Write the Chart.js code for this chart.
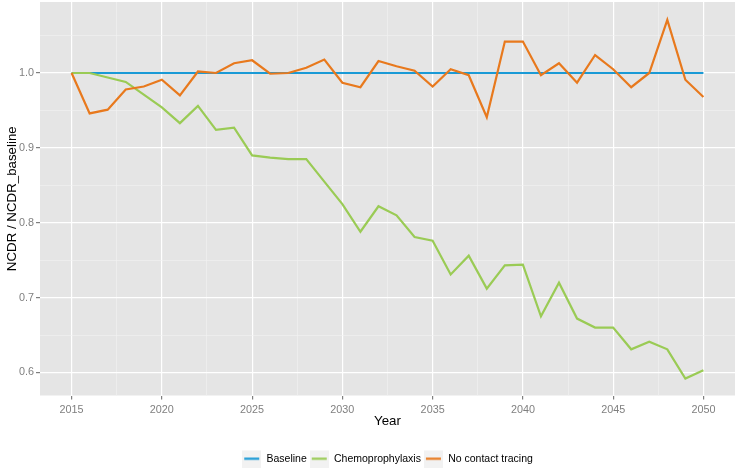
<!DOCTYPE html>
<html>
<head>
<meta charset="utf-8">
<script src="https://cdn.jsdelivr.net/npm/chart.js@4/dist/chart.umd.min.js"></script>
<style>
  html, body { margin: 0; padding: 0; background: #ffffff; }
  #wrap { width: 737px; height: 469px; position: relative; }
</style>
</head>
<body>
<div id="wrap"><canvas id="c" width="737" height="469"></canvas></div>
<script>
// ---- data ----
const years = [2015,2016,2017,2018,2019,2020,2021,2022,2023,2024,2025,2026,2027,2028,2029,2030,2031,2032,2033,2034,2035,2036,2037,2038,2039,2040,2041,2042,2043,2044,2045,2046,2047,2048,2049,2050];
const seriesNames = ["Baseline", "Chemoprophylaxis", "No contact tracing"];
const baseline = [1,1,1,1,1,1,1,1,1,1,1,1,1,1,1,1,1,1,1,1,1,1,1,1,1,1,1,1,1,1,1,1,1,1,1,1];
const chemoprophylaxis = [1.000,1.000,0.994,0.988,0.971,0.954,0.933,0.956,0.924,0.927,0.890,0.887,0.885,0.885,0.855,0.825,0.788,0.822,0.810,0.781,0.776,0.731,0.756,0.712,0.743,0.744,0.675,0.720,0.672,0.660,0.660,0.631,0.641,0.631,0.592,0.603];
const noContactTracing = [1.000,0.946,0.951,0.978,0.982,0.991,0.970,1.002,1.000,1.013,1.017,0.999,1.000,1.007,1.018,0.987,0.981,1.016,1.009,1.003,0.982,1.005,0.997,0.941,1.042,1.042,0.997,1.013,0.987,1.024,1.005,0.981,1.000,1.071,0.991,0.968];
const xMajorTicks = [2015,2020,2025,2030,2035,2040,2045,2050];
const xMinorTicks = [2017.5,2022.5,2027.5,2032.5,2037.5,2042.5,2047.5];
const yMajorTicks = [0.6,0.7,0.8,0.9,1.0];
const yMinorTicks = [0.65,0.75,0.85,0.95,1.05];

// ---- styles ----
const colors = ["#1a9ad6", "#9acb55", "#e8791d"];
const FONT = "'Liberation Sans', Arial, Helvetica, sans-serif";

function keyImage(color) {
  const c = document.createElement('canvas');
  c.width = 19; c.height = 19;
  const g = c.getContext('2d');
  g.fillStyle = '#f2f2f2';
  g.fillRect(0, 0, 19, 19);
  g.strokeStyle = color;
  g.lineWidth = 2.2;
  g.beginPath();
  g.moveTo(2, 9.5); g.lineTo(17, 9.5);
  g.stroke();
  return c;
}
const keys = colors.map(keyImage);

const toXY = arr => years.map((y, i) => ({x: y, y: arr[i]}));
const seriesData = [baseline, chemoprophylaxis, noContactTracing];

const panelBg = {
  id: 'panelBg',
  beforeDraw(chart) {
    const {ctx, chartArea: a} = chart;
    ctx.save();
    ctx.fillStyle = '#e5e5e5';
    ctx.fillRect(a.left, a.top, a.right - a.left, a.bottom - a.top);
    ctx.restore();
  }
};

// centre the legend under the panel and place it near the bottom edge
const legendShift = {
  id: 'legendShift',
  afterLayout(chart) {
    const a = chart.chartArea;
    const lg = chart.legend;
    if (!lg) return;
    const d = (a.left + a.right) / 2 - (lg.left + lg.right) / 2;
    lg.left += d; lg.right += d;
    lg.top += 8.5; lg.bottom += 8.5;
  }
};

function isMajor(list, v) { return list.some(t => Math.abs(t - v) < 1e-9); }

new Chart(document.getElementById('c'), {
  type: 'line',
  data: {
    datasets: seriesNames.map((name, i) => ({
      label: name,
      data: toXY(seriesData[i]),
      borderColor: colors[i],
      backgroundColor: colors[i],
      borderWidth: 2.2,
      pointRadius: 0,
      tension: 0,
      fill: false,
      order: 3 - i
    }))
  },
  options: {
    responsive: false,
    animation: false,
    layout: { padding: { top: 2, right: 2, left: 0, bottom: 3.5 } },
    plugins: {
      tooltip: { enabled: false },
      legend: {
        position: 'bottom',
        labels: {
          usePointStyle: true,
          pointStyleWidth: 19,
          padding: 3,
          color: '#000000',
          font: { family: FONT, size: 10.5 },
          generateLabels(chart) {
            return seriesNames.map((name, i) => ({
              text: name,
              pointStyle: keys[i],
              fillStyle: colors[i],
              strokeStyle: colors[i],
              lineWidth: 0,
              hidden: false,
              datasetIndex: i
            }));
          }
        }
      }
    },
    scales: {
      x: {
        type: 'linear',
        min: 2013.25,
        max: 2051.75,
        afterFit(scale) { scale.height = 46.5; scale.paddingLeft = 0; scale.paddingRight = 0; },
        afterBuildTicks(scale) {
          scale.ticks = xMajorTicks.concat(xMinorTicks).sort((a,b)=>a-b).map(v => ({value: v}));
        },
        border: { display: false },
        grid: {
          color: ctx => isMajor(xMajorTicks, ctx.tick ? ctx.tick.value : 0) ? '#ffffff' : '#f2f2f2',
          lineWidth: ctx => isMajor(xMajorTicks, ctx.tick ? ctx.tick.value : 0) ? 1.2 : 0.6,
          tickColor: ctx => isMajor(xMajorTicks, ctx.tick ? ctx.tick.value : 0) ? '#7f7f7f' : 'rgba(0,0,0,0)',
          tickLength: 4,
          drawTicks: true
        },
        ticks: {
          autoSkip: false,
          maxRotation: 0,
          padding: 4,
          color: '#7f7f7f',
          font: { family: FONT, size: 10.8 },
          callback: v => isMajor(xMajorTicks, v) ? String(v) : ''
        },
        title: {
          display: true,
          text: 'Year',
          color: '#000000',
          font: { family: FONT, size: 13.3 },
          padding: { top: 0, bottom: 12.5 }
        }
      },
      y: {
        type: 'linear',
        min: 0.5693,
        max: 1.0948,
        afterFit(scale) { scale.width = 40; scale.paddingTop = 0; scale.paddingBottom = 0; },
        afterBuildTicks(scale) {
          scale.ticks = yMajorTicks.concat(yMinorTicks).sort((a,b)=>a-b).map(v => ({value: v}));
        },
        border: { display: false },
        grid: {
          color: ctx => isMajor(yMajorTicks, ctx.tick ? ctx.tick.value : 0) ? '#ffffff' : '#f2f2f2',
          lineWidth: ctx => isMajor(yMajorTicks, ctx.tick ? ctx.tick.value : 0) ? 1.2 : 0.6,
          tickColor: ctx => isMajor(yMajorTicks, ctx.tick ? ctx.tick.value : 0) ? '#7f7f7f' : 'rgba(0,0,0,0)',
          tickLength: 4,
          drawTicks: true
        },
        ticks: {
          autoSkip: false,
          padding: 2,
          color: '#7f7f7f',
          font: { family: FONT, size: 10.8 },
          callback: v => isMajor(yMajorTicks, v) ? v.toFixed(1) : ''
        },
        title: {
          display: true,
          text: 'NCDR / NCDR_baseline',
          color: '#000000',
          font: { family: FONT, size: 13.3 },
          padding: { top: 4, bottom: 0 }
        }
      }
    }
  },
  plugins: [panelBg, legendShift]
});
</script>
</body>
</html>
